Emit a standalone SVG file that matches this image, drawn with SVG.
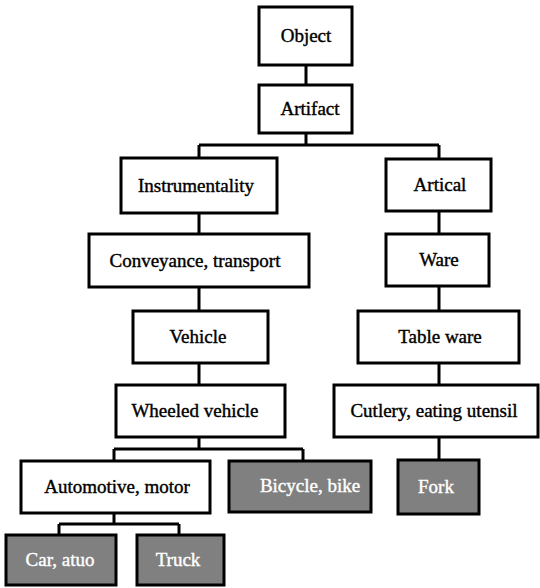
<svg xmlns="http://www.w3.org/2000/svg" width="540" height="588" viewBox="0 0 540 588">
<style>
.box{fill:#ffffff;stroke:#000000;stroke-width:3}
.leaf{fill:#808080;stroke:#000000;stroke-width:3}
.t{font-family:'Liberation Serif','Times New Roman',serif;font-size:19px;fill:#000000;stroke:#000000;stroke-width:0.4;text-anchor:middle}
.w{fill:#ffffff;stroke:#ffffff}
.c{fill:none;stroke:#000000;stroke-width:3}
</style>
<rect width="540" height="588" fill="#ffffff"/>
<g id="connectors">
<path class="c" d="M306,65V85M306,133V145M199,145H439M199,145V158M439,145V159"/>
<path class="c" d="M199,213V234M199,287V311M199,363V385M199,437V449M114,449H303M114,449V461M303,449V461"/>
<path class="c" d="M114,513V524M59,524H179M59,524V535M179,524V535"/>
<path class="c" d="M439,211V234M439,286V311M439,363V385M439,437V460"/>
</g>
<g id="object"><rect class="box" x="259" y="7" width="93" height="58"/><text class="t" x="306" y="42">Object</text></g>
<g id="artifact"><rect class="box" x="259" y="85" width="93" height="48"/><text class="t" x="310" y="115">Artifact</text></g>
<g id="instrumentality"><rect class="box" x="121" y="158" width="156" height="55"/><text class="t" x="196" y="192">Instrumentality</text></g>
<g id="conveyance"><rect class="box" x="89" y="234" width="220" height="53"/><text class="t" x="195" y="267">Conveyance, transport</text></g>
<g id="vehicle"><rect class="box" x="133" y="311" width="135" height="52"/><text class="t" x="198" y="343">Vehicle</text></g>
<g id="wheeled"><rect class="box" x="116" y="385" width="169" height="52"/><text class="t" x="195" y="417">Wheeled vehicle</text></g>
<g id="automotive"><rect class="box" x="21" y="461" width="189" height="52"/><text class="t" x="117" y="493">Automotive, motor</text></g>
<g id="bicycle"><rect class="leaf" x="229" y="461" width="142" height="51"/><text class="t w" x="310" y="492">Bicycle, bike</text></g>
<g id="car"><rect class="leaf" x="6" y="535" width="110" height="50"/><text class="t w" x="60" y="566">Car, atuo</text></g>
<g id="truck"><rect class="leaf" x="137" y="535" width="87" height="50"/><text class="t w" x="178" y="566">Truck</text></g>
<g id="artical"><rect class="box" x="386" y="159" width="105" height="52"/><text class="t" x="440" y="191">Artical</text></g>
<g id="ware"><rect class="box" x="386" y="234" width="103" height="52"/><text class="t" x="439" y="266">Ware</text></g>
<g id="tableware"><rect class="box" x="358" y="311" width="161" height="52"/><text class="t" x="440" y="343">Table ware</text></g>
<g id="cutlery"><rect class="box" x="334" y="385" width="204" height="52"/><text class="t" x="434" y="417">Cutlery, eating utensil</text></g>
<g id="fork"><rect class="leaf" x="398" y="460" width="81" height="54"/><text class="t w" x="436" y="493">Fork</text></g>
</svg>
